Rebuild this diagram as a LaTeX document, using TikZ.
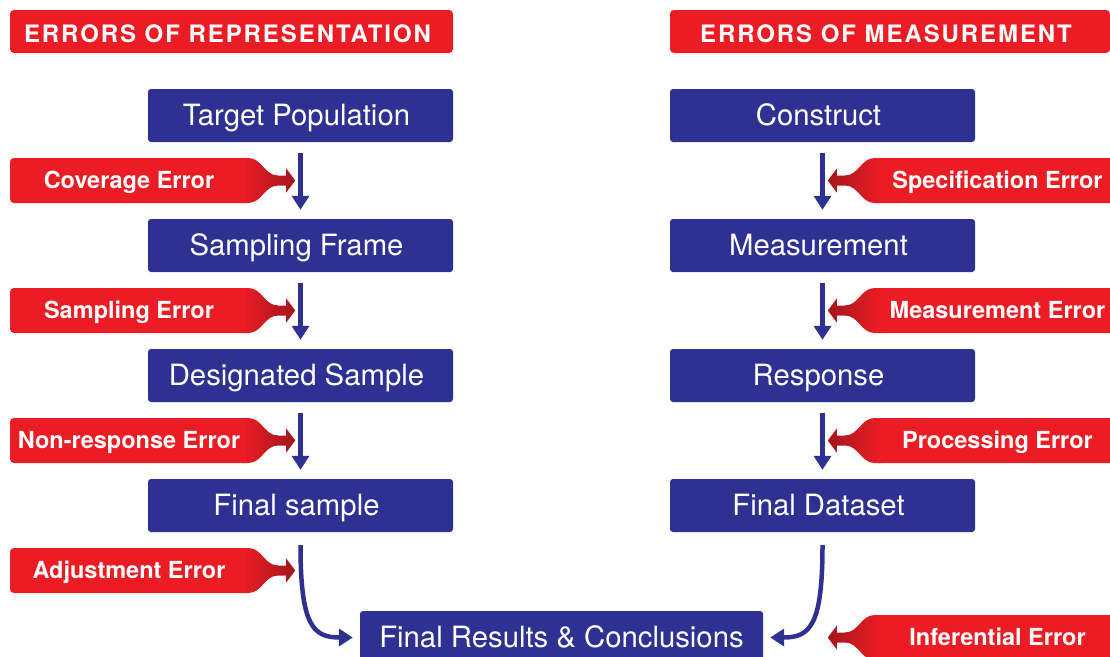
\documentclass[tikz,border=0pt]{standalone}
\usepackage{fontspec}
\setmainfont{TeX Gyre Heros}
\newfontfamily\hdrfont{TeX Gyre Heros}[LetterSpace=8]
\usetikzlibrary{arrows.meta}
\definecolor{ered}{HTML}{EC1C24}
\definecolor{edark}{HTML}{A3161C}
\definecolor{eblue}{HTML}{2E3192}
\begin{document}
\begin{tikzpicture}[x=1pt,y=-1pt,
  hdr/.style={fill=ered, rounded corners=4pt, text=white, font=\hdrfont\bfseries\fontsize{24}{28}\selectfont, minimum height=43pt, inner sep=0pt, text height=21.4pt, text depth=0pt, execute at begin node=\hspace*{-8pt}},
  box/.style={fill=eblue, rounded corners=3pt, text=white, font=\fontsize{29.3}{34}\selectfont, minimum width=305pt, minimum height=53pt, inner sep=0pt, text height=21pt, text depth=2pt},
  colbox/.style={box, execute at begin node=\hspace*{-8pt}},
  err/.style={fill=ered, rounded corners=4pt, text=white, font=\bfseries\fontsize{23.5}{28}\selectfont, minimum height=45pt, inner sep=0pt, text height=16.5pt, text depth=1pt},
  lerr/.style={err, minimum width=238pt},
  rerr/.style={err, minimum width=245pt},
  flow/.style={draw=eblue, line width=4.5pt, -{Triangle[width=17pt,length=14pt]}},
  rneck/.pic={\shade[left color=ered, middle color=ered, right color=edark]
    (-6,-22.5) -- (0,-22.5) .. controls (14,-22.5) and (16,-5) .. (30,-5) -- (38,-5) -- (38,-12) -- (47,0)
    -- (38,12) -- (38,5) -- (30,5) .. controls (16,5) and (14,22.5) .. (0,22.5) -- (-6,22.5) -- cycle;},
  lneck/.pic={\shade[right color=ered, middle color=ered, left color=edark]
    (6,-22.5) -- (0,-22.5) .. controls (-14,-22.5) and (-16,-5) .. (-30,-5) -- (-38,-5) -- (-38,-12) -- (-47,0)
    -- (-38,12) -- (-38,5) -- (-30,5) .. controls (-16,5) and (-14,22.5) .. (0,22.5) -- (6,22.5) -- cycle;},
]
\useasboundingbox (0,0) rectangle (1110,656);
\clip (0,0) rectangle (1110,656);

% headers
\node[hdr, minimum width=443pt] (hl) at (231.5,31.5) {ERRORS OF REPRESENTATION};
\node[hdr, minimum width=440pt] (hr) at (890,31.5) {ERRORS OF MEASUREMENT};

% left column
\node[colbox] (tp) at (300.5,115.5) {Target Population};
\node[colbox] (sf) at (300.5,245.5) {Sampling Frame};
\node[colbox] (ds) at (300.5,375.5) {Designated Sample};
\node[colbox] (fs) at (300.5,505.5) {Final sample};

% right column
\node[colbox] (co) at (822.5,115.5) {Construct};
\node[colbox] (me) at (822.5,245.5) {Measurement};
\node[colbox] (re) at (822.5,375.5) {Response};
\node[colbox] (fd) at (822.5,505.5) {Final Dataset};

% final
\node[box, minimum width=403pt] (fr) at (561.5,637.5) {Final Results \& Conclusions};

% left error callouts
\node[lerr] (cov) at (129,180.5) {Coverage Error};
\node[lerr] (samp) at (129,310.5) {Sampling Error};
\node[lerr] (nonr) at (129,440.5) {Non-response Error};
\node[lerr] (adj) at (129,570.5) {Adjustment Error};
\pic at (cov.east) {rneck};
\pic at (samp.east) {rneck};
\pic at (nonr.east) {rneck};
\pic at (adj.east) {rneck};

% right error callouts
\node[rerr] (spec) at (997.5,180.5) {Specification Error};
\node[rerr] (meas) at (997.5,310.5) {Measurement Error};
\node[rerr] (proc) at (997.5,440.5) {Processing Error};
\node[rerr] (inf) at (997.5,637.5) {Inferential Error};
\pic at (spec.west) {lneck};
\pic at (meas.west) {lneck};
\pic at (proc.west) {lneck};
\pic at (inf.west) {lneck};

% flow arrows
\draw[flow, shorten <=11pt, shorten >=9pt] (tp) -- (sf);
\draw[flow, shorten <=11pt, shorten >=9pt] (sf) -- (ds);
\draw[flow, shorten <=11pt, shorten >=9pt] (ds) -- (fs);
\draw[flow, shorten <=11pt, shorten >=9pt] (co) -- (me);
\draw[flow, shorten <=11pt, shorten >=9pt] (me) -- (re);
\draw[flow, shorten <=11pt, shorten >=9pt] (re) -- (fd);
\draw[flow] ([yshift=-13pt]fs.south) .. controls +(0,80) and +(-40,0) .. ([xshift=-7pt]fr.west);
\draw[flow] ([yshift=-13pt]fd.south) .. controls +(0,80) and +(40,0) .. ([xshift=7pt]fr.east);
\end{tikzpicture}
\end{document}
